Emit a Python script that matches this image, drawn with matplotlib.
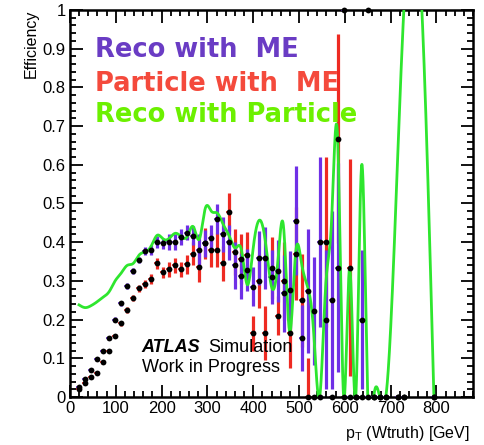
import numpy as np
import matplotlib
matplotlib.use("Agg")
import matplotlib.pyplot as plt
from matplotlib.ticker import MultipleLocator, FuncFormatter

nan = np.nan
BIN_W = 880.0 / 67.0
bins = np.arange(1, 61)

reco_me = [0.026, 0.047, 0.070, 0.097, 0.120, 0.153, 0.200, 0.242, 0.287, 0.326,
           0.354, 0.377, 0.380, 0.401, 0.397, 0.401, 0.400, 0.413, 0.425, 0.417,
           0.380, 0.397, 0.410, 0.460, 0.420, 0.400, 0.340, 0.313, 0.328, 0.285,
           0.360, 0.360, 0.310, 0.326, 0.268, 0.276, 0.456, 0.152, 0.274, 0.222,
           0.400, 0.200, 0.250, 0.334, 1.000, 0.000, 0.000, 0.200, 0.000, 0.000,
           0.000, 0.000, nan, 0.000, 0.000, nan, nan, nan, nan, 0.000]
reco_me_err = [0.005, 0.005, 0.005, 0.005, 0.005, 0.005, 0.006, 0.006, 0.007, 0.008,
               0.009, 0.010, 0.012, 0.015, 0.015, 0.020, 0.020, 0.020, 0.020, 0.025,
               0.040, 0.035, 0.035, 0.040, 0.045, 0.045, 0.060, 0.060, 0.055, 0.050,
               0.070, 0.080, 0.070, 0.080, 0.100, 0.100, 0.140, 0.085, 0.160, 0.140,
               0.220, 0.180, 0.230, 0.270, 0.000, 0.000, 0.000, 0.180, 0.000, 0.000,
               0.000, 0.000, 0.000, 0.000, 0.000, 0.000, 0.000, 0.000, 0.000, 0.000]

particle_me = [0.020, 0.035, 0.052, 0.062, 0.090, 0.120, 0.158, 0.190, 0.225, 0.255,
               0.281, 0.292, 0.305, 0.345, 0.322, 0.330, 0.340, 0.330, 0.343, 0.370,
               0.337, 0.397, 0.380, 0.380, 0.345, 0.478, 0.375, 0.356, 0.367, 0.165,
               0.300, 0.165, 0.334, 0.210, 0.300, 0.165, 0.370, 0.250, 0.000, 0.000,
               0.000, 0.400, 0.000, 0.667, 0.000, 0.334, 0.000, 0.000, 1.000, 0.000,
               0.000, 0.000, nan, 0.000, 0.000, nan, nan, nan, nan, 0.000]
particle_me_err = [0.005, 0.005, 0.005, 0.005, 0.005, 0.005, 0.006, 0.006, 0.007, 0.008,
                   0.009, 0.010, 0.012, 0.015, 0.015, 0.020, 0.020, 0.020, 0.025, 0.030,
                   0.040, 0.040, 0.045, 0.045, 0.045, 0.050, 0.060, 0.065, 0.060, 0.045,
                   0.070, 0.070, 0.080, 0.050, 0.100, 0.090, 0.120, 0.120, 0.100, 0.000,
                   0.000, 0.220, 0.000, 0.270, 0.000, 0.280, 0.000, 0.000, 0.000, 0.000,
                   0.000, 0.000, 0.000, 0.000, 0.000, 0.000, 0.000, 0.000, 0.000, 0.000]

reco_particle = [0.238, 0.231, 0.236, 0.246, 0.258, 0.272, 0.300, 0.320, 0.340, 0.345,
                 0.367, 0.375, 0.390, 0.418, 0.408, 0.410, 0.423, 0.414, 0.415, 0.440,
                 0.408, 0.488, 0.480, 0.475, 0.445, 0.415, 0.385, 0.380, 0.290, 0.390,
                 0.457, 0.400, 0.285, 0.340, 0.440, 0.170, 0.370, 0.345, 0.285, 0.170,
                 0.000, 0.285, 0.460, 0.667, 0.000, 0.334, 0.000, 0.600, 0.000, 0.000,
                 0.000, 0.000, nan, nan, 1.000, nan, nan, 1.000, nan, 0.000]

legend_labels = ["Reco with  ME", "Particle with  ME", "Reco with Particle"]

C_BLUE = "#6f2fe6"
C_RED = "#ee2a22"
C_GREEN = "#2ee62e"
T_BLUE = "#6a3cc4"
T_RED = "#f44a3c"
T_GREEN = "#6cf000"

x = (bins + 0.5) * BIN_W


def natural_spline(xk, yk, n=3000):
    xk = np.asarray(xk, float)
    yk = np.asarray(yk, float)
    m = len(xk)
    h = np.diff(xk)
    A = np.zeros((m, m))
    r = np.zeros(m)
    A[0, 0] = 1.0
    A[-1, -1] = 1.0
    for i in range(1, m - 1):
        A[i, i - 1] = h[i - 1]
        A[i, i] = 2 * (h[i - 1] + h[i])
        A[i, i + 1] = h[i]
        r[i] = 6 * ((yk[i + 1] - yk[i]) / h[i] - (yk[i] - yk[i - 1]) / h[i - 1])
    M = np.linalg.solve(A, r)
    xs = np.linspace(xk[0], xk[-1], n)
    idx = np.clip(np.searchsorted(xk, xs) - 1, 0, m - 2)
    x0, x1 = xk[idx], xk[idx + 1]
    hh = x1 - x0
    a = (x1 - xs) / hh
    b = (xs - x0) / hh
    ys = (a * yk[idx] + b * yk[idx + 1]
          + ((a ** 3 - a) * M[idx] + (b ** 3 - b) * M[idx + 1]) * hh ** 2 / 6.0)
    return xs, ys


fig = plt.figure(figsize=(4.85, 4.45), dpi=100)
ax = fig.add_axes([70 / 485, 48 / 445, 403 / 485, 387 / 445])

plt.rcParams['font.family'] = ['Liberation Sans', 'DejaVu Sans']

def draw_bars(vals, errs, color, z):
    v = np.asarray(vals, float)
    e = np.asarray(errs, float)
    ok = ~np.isnan(v)
    lo = np.clip(v - e, 0, 1)
    hi = np.clip(v + e, 0, 1)
    ax.vlines(x[ok], lo[ok], hi[ok], color=color, lw=2.3, zorder=z)
    ax.hlines(v[ok], x[ok] - BIN_W / 2, x[ok] + BIN_W / 2, color=color, lw=1.2, zorder=z)

draw_bars(particle_me, particle_me_err, C_RED, 2)
draw_bars(reco_me, reco_me_err, C_BLUE, 3)

g = np.asarray(reco_particle, float)
okg = ~np.isnan(g)
xs, ys = natural_spline(x[okg], g[okg])
ax.plot(xs, ys, color=C_GREEN, lw=2.0, zorder=4, clip_on=True)

for vals in (reco_me, particle_me):
    v = np.asarray(vals, float)
    ok = ~np.isnan(v)
    ax.plot(x[ok], v[ok], 'o', color='black', ms=4.2, mew=0, zorder=5, clip_on=False)

ax.set_xlim(0, 880)
ax.set_ylim(0, 1)
ax.xaxis.set_major_locator(MultipleLocator(100))
ax.xaxis.set_minor_locator(MultipleLocator(20))
ax.yaxis.set_major_locator(MultipleLocator(0.1))
ax.yaxis.set_minor_locator(MultipleLocator(0.02))
ax.yaxis.set_major_formatter(FuncFormatter(lambda v, p: ("%g" % round(v, 2))))
ax.tick_params(which='both', direction='in', top=True, right=True, width=1.3,
               labelsize=12, pad=3)
ax.tick_params(which='major', length=9)
ax.tick_params(which='minor', length=4.5)
for s in ax.spines.values():
    s.set_linewidth(1.8)

for lbl in ax.get_xticklabels() + ax.get_yticklabels():
    lbl.set_fontfamily(['Liberation Sans', 'DejaVu Sans'])

fig.text(31 / 485, 1 - 10 / 445, "Efficiency", rotation=90, ha='center', va='top',
         fontsize=11.5, family=['Liberation Sans', 'DejaVu Sans'])
fig.text(470 / 485, 1 - 438 / 445, r"p$_{\mathregular{T}}$ (Wtruth) [GeV]", ha='right',
         va='baseline', fontsize=11.5, family=['Liberation Sans', 'DejaVu Sans'])

for txt, col, yb in zip(legend_labels, [T_BLUE, T_RED, T_GREEN], [0.879, 0.791, 0.711]):
    ax.text(0.062, yb, txt, transform=ax.transAxes, color=col, fontsize=18.5,
            fontweight='bold', family=['DejaVu Sans'], va='baseline', ha='left', zorder=6)

ax.text(0.178, 0.117, "ATLAS", transform=ax.transAxes, fontsize=13, fontweight='bold',
        fontstyle='italic', family=['Liberation Sans', 'DejaVu Sans'], va='baseline', zorder=6)
ax.text(0.342, 0.117, "Simulation", transform=ax.transAxes, fontsize=13,
        family=['Liberation Sans', 'DejaVu Sans'], va='baseline', zorder=6)
ax.text(0.178, 0.065, "Work in Progress", transform=ax.transAxes, fontsize=13,
        family=['Liberation Sans', 'DejaVu Sans'], va='baseline', zorder=6)

fig.savefig("out.png", dpi=100)
